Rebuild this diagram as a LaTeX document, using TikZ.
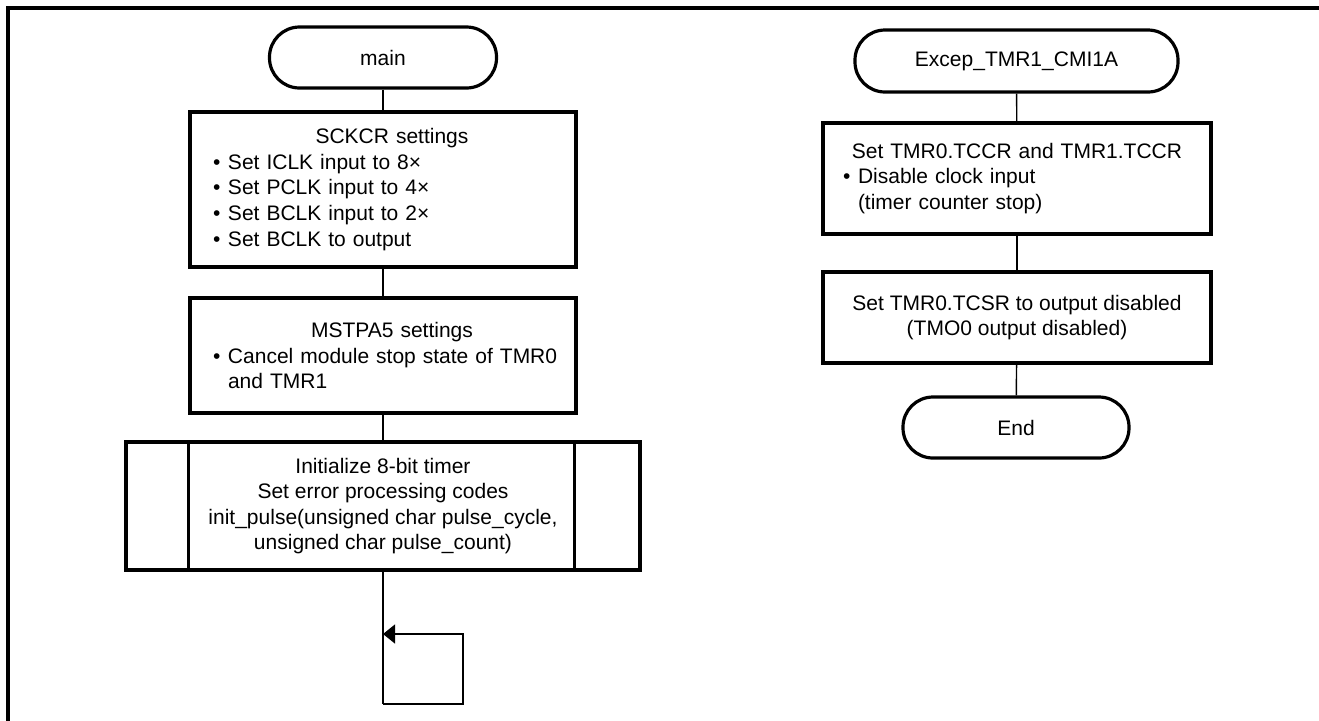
\documentclass[tikz,border=0pt]{standalone}
\usepackage{fontspec}
\setmainfont{Liberation Sans}
\usetikzlibrary{arrows.meta,positioning}
\tikzset{
    term-box/.style = {draw, line width=1.6pt, rectangle, rounded corners=15pt, minimum height=30.5pt, inner sep=0pt},
    proc-box/.style = {draw, line width=1.6pt, rectangle, inner sep=0pt},
    list-box/.style = {proc-box, align=left, inner xsep=11.5pt, text width=170pt},
    flow-line/.style = {line width=0.7pt},
}
\newcommand{\blt}{\makebox[7.5pt][l]{\textbullet}}
\newcommand{\hang}{\hspace*{7.5pt}}

\begin{document}
\begin{tikzpicture}[x=0.5pt, y=-0.5pt, every node/.style={font=\fontsize{10.5}{12.8}\selectfont}]
\useasboundingbox (0,0) rectangle (1319,720);
% frame
\coordinate (frame-bl) at (8,724);
\coordinate (frame-tr) at (1323,8);
\draw[line width=1.6pt] (frame-bl) |- (frame-tr);

% main routine
\node[term-box, minimum width=113.5pt] (main) at (383,57.5) {main};
\node[list-box, minimum height=77.5pt] (sckcr) at (383,189.5) {\makebox[\hsize]{\hspace*{9pt}SCKCR settings}\\
    \blt Set ICLK input to 8×\\
    \blt Set PCLK input to 4×\\
    \blt Set BCLK input to 2×\\
    \blt Set BCLK to output};
\node[list-box, minimum height=57.5pt] (mstp) at (383,355.5) {\makebox[\hsize]{\hspace*{9pt}MSTPA5 settings}\\
    \mbox{\blt Cancel module stop state of TMR0}\\
    \hang and TMR1};
\node[proc-box, align=center, minimum width=257pt, minimum height=64pt] (init) at (383,506) {Initialize 8-bit timer\\
    Set error processing codes\\
    init\_pulse(unsigned char pulse\_cycle,\\
    unsigned char pulse\_count)};
\draw[line width=1.6pt] ([xshift=32pt]init.north west) -- ([xshift=32pt]init.south west);
\draw[line width=1.6pt] ([xshift=-33.5pt]init.north east) -- ([xshift=-33.5pt]init.south east);

\draw[flow-line] (main) -- (sckcr);
\draw[flow-line] (sckcr) -- (mstp);
\draw[flow-line] (mstp) -- (init);

% endless loop
\coordinate (loop-sw) at (383,704);
\coordinate (loop-se) at (463,704);
\coordinate (loop-in) at (383,634);
\draw[flow-line] (init) -- (loop-sw);
\draw[flow-line, -{Triangle[length=6pt, width=9.5pt]}] (loop-sw) -- (loop-se) |- (loop-in);

% compare match interrupt
\node[term-box, minimum width=161.5pt, minimum height=31pt] (excep) at (1016.5,61) {Excep\_TMR1\_CMI1A};
\node[proc-box, align=left, inner xsep=10pt, text width=174pt, minimum height=55.5pt] (tccr) at (1017,178.5) {\makebox[\hsize]{Set TMR0.TCCR and TMR1.TCCR}\\
    \blt Disable clock input\\
    \hang (timer counter stop)};
\node[proc-box, align=center, minimum width=194pt, minimum height=45.5pt] (tcsr) at (1017,317.5) {Set TMR0.TCSR to output disabled\\
    (TMO0 output disabled)};
\node[term-box, minimum width=113pt] (end) at (1016,427.5) {End};

\draw[flow-line] (excep) -- (tccr);
\draw[flow-line] (tccr) -- (tcsr);
\draw[flow-line] (tcsr) -- (end);
\end{tikzpicture}
\end{document}
